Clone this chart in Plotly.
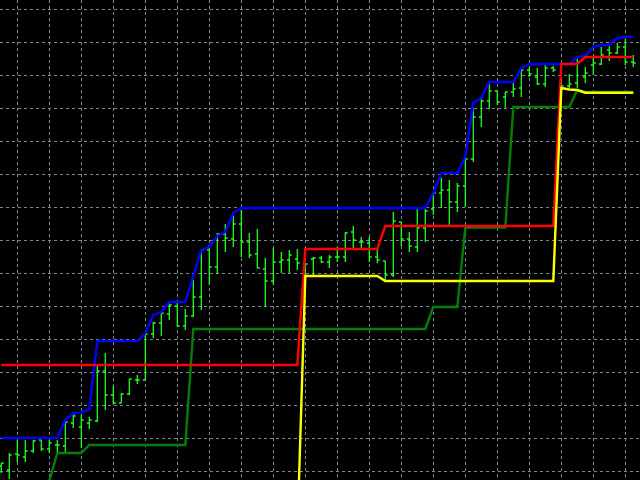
import plotly.graph_objects as go

# bar index (one bar per period)
bars = list(range(80))

# OHLC values (price points)
opens = [14, 10, 26, 23, 29, 40, 31, 35, 34, 57, 53, 57, 59, 109, 85, 77, 86, 100, 100, 146,
         157, 166, 174, 154, 164, 183, 230, 213, 246, 241, 256, 238, 226, 211, 199, 218, 220, 221, 216, 221,
         222, 218, 223, 223, 248, 238, 237, 223, 219, 205, 258, 241, 233, 252, 271, 287, 290, 278, 294, 321,
         363, 379, 389, 383, 388, 392, 410, 403, 396, 412, 395, 394, 397, 403, 415, 416, 430, 427, 433, 418]
highs = [17, 27, 40, 40, 40, 40, 40, 40, 58, 67, 65, 63, 115, 127, 94, 87, 101, 105, 147, 158,
         168, 177, 178, 171, 200, 230, 235, 247, 256, 265, 270, 247, 251, 222, 232, 228, 230, 231, 217, 223,
         224, 225, 233, 248, 254, 243, 243, 231, 219, 268, 258, 248, 272, 271, 287, 302, 300, 297, 323, 377,
         381, 397, 389, 388, 397, 413, 413, 412, 415, 414, 401, 406, 421, 413, 423, 433, 435, 437, 441, 425]
lows = [7, 1, 18, 18, 27, 29, 27, 28, 28, 52, 32, 51, 58, 70, 76, 77, 85, 96, 100, 142,
        144, 160, 153, 150, 163, 170, 195, 206, 228, 233, 223, 222, 212, 173, 195, 207, 207, 210, 205, 205,
        217, 212, 218, 218, 232, 232, 218, 217, 200, 203, 234, 228, 228, 238, 265, 272, 253, 268, 273, 318,
        353, 371, 375, 372, 383, 383, 403, 395, 393, 408, 387, 392, 392, 397, 405, 415, 419, 426, 415, 413]
closes = [17, 25, 25, 29, 39, 31, 37, 35, 58, 64, 60, 60, 109, 85, 77, 86, 101, 100, 146, 157,
          167, 175, 154, 164, 183, 230, 213, 246, 242, 256, 238, 225, 212, 199, 218, 220, 225, 217, 216, 222,
          218, 223, 223, 247, 240, 238, 223, 220, 205, 259, 241, 234, 252, 269, 287, 290, 278, 294, 321, 363,
          379, 389, 378, 388, 391, 410, 406, 396, 412, 410, 394, 396, 418, 407, 417, 425, 427, 433, 418, 417]

# channel / indicator lines
upper_blue = [42] * 8 + [60, 67, 67, 71] + [139] * 6 + [147, 165, 168, 178, 178, 178, 204, 230, 233, 244, 248, 267] \
    + [272] * 24 + [287, 307, 307, 307, 323, 377, 382, 398, 398, 398, 398, 412] + [416] * 6 \
    + [423, 424, 433, 435, 435, 442, 443, 443]
red_level = [115] * 38 + [231] * 10 + [254] * 22 + [416] * 3 + [423] * 7
green_level = [None] * 6 + [-1] + [27] * 4 + [35] * 13 + [151] * 30 + [173] * 4 + [252.5] * 6 \
    + [373] * 8 + [390] + [388] * 7
yellow_level = [None] * 37 + [-55] + [204] * 10 + [199] * 22 + [392, 390.5, 390] + [387.3] * 7

fig = go.Figure()
fig.add_trace(go.Ohlc(
    x=bars, open=opens, high=highs, low=lows, close=closes,
    increasing=dict(line=dict(color="#22ff22", width=1.3)),
    decreasing=dict(line=dict(color="#22ff22", width=1.3)),
    tickwidth=0.3, hoverinfo="skip", showlegend=False,
))
for vals, col in [(green_level, "#008000"), (upper_blue, "#0000ff"),
                  (red_level, "#ff0000"), (yellow_level, "#ffff00")]:
    fig.add_trace(go.Scatter(x=bars, y=vals, mode="lines",
                             line=dict(color=col, width=2.4),
                             connectgaps=False, hoverinfo="skip", showlegend=False))

grid = dict(showgrid=True, gridcolor="#778899", gridwidth=1, griddash="3px,3px",
            zeroline=False, showline=False, showticklabels=False, ticks="")
fig.update_layout(
    width=640, height=480,
    margin=dict(l=0, r=0, t=0, b=0),
    paper_bgcolor="#000000", plot_bgcolor="#000000",
    xaxis=dict(range=[-0.1625, 79.8375], tick0=2, dtick=4, rangeslider=dict(visible=False), **grid),
    yaxis=dict(range=[0, 480], tick0=8.7, dtick=33, **grid),
    showlegend=False,
)
fig.write_html("out.html", config={"displayModeBar": False},
               post_script="document.body.style.margin='0';document.body.style.background='#000';")
